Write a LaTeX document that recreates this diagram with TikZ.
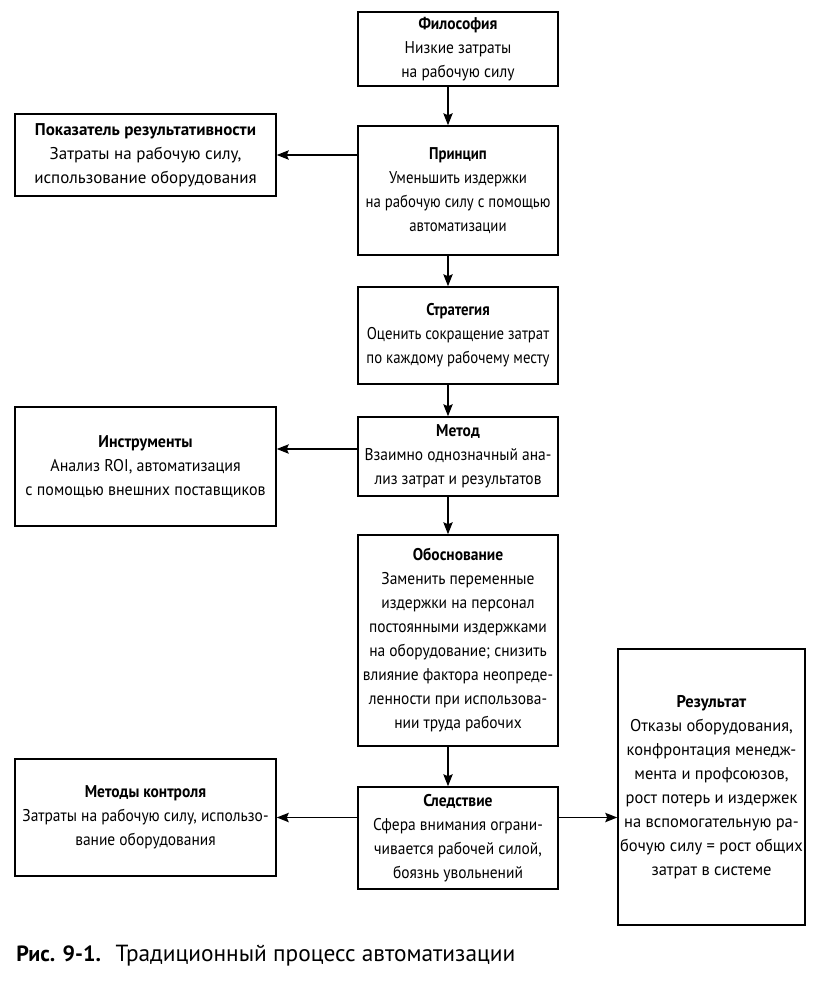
\documentclass[tikz,border=0pt]{standalone}
\usepackage{fontspec}
\setmainfont{PT Sans}
\newfontfamily\fS{PT Sans}[FakeStretch=0.87]
\newfontfamily\fM{PT Sans}[FakeStretch=0.91]
\newfontfamily\fN{PT Sans}[FakeStretch=0.94]
\newfontfamily\fW{PT Sans}[FakeStretch=0.97]
\usetikzlibrary{arrows.meta,calc}
\begin{document}
\begin{tikzpicture}[x=0.75pt,y=-0.75pt,
  box/.style={draw,line width=1.1pt,align=center,inner sep=0pt},
  tS/.style={font=\fS\fontsize{12.75}{18}\selectfont},
  tM/.style={font=\fM\fontsize{12.75}{18}\selectfont},
  tN/.style={font=\fN\fontsize{12.75}{18}\selectfont},
  tW/.style={font=\fW\fontsize{12.75}{18}\selectfont},
  tR/.style={font=\fontsize{12.75}{18}\selectfont},
  arr/.style={line width=1.1pt,-{Stealth[length=9pt,width=7pt,inset=1.5pt]}}]
\useasboundingbox (0,0) rectangle (816,992);
% central column
\node[box,tM,minimum width=150pt,minimum height=55.5pt] (phil) at (458,49)
  {\textbf{Философия}\\Низкие затраты\\на рабочую силу};
\node[box,tS,minimum width=150pt,minimum height=96.75pt] (princ) at (458,190.5)
  {\textbf{Принцип}\\Уменьшить издержки\\на рабочую силу с помощью\\автоматизации};
\node[box,tS,minimum width=150pt,minimum height=72.75pt] (strat) at (458,335.5)
  {\textbf{Стратегия}\\Оценить сокращение затрат\\по каждому рабочему месту};
\node[box,tM,minimum width=150pt,minimum height=59.25pt] (meth) at (458,456.5)
  {\textbf{Метод}\\Взаимно однозначный ана-\\лиз затрат и результатов};
\node[box,tM,minimum width=150pt,minimum height=158.25pt] (just) at (458,640.5)
  {\textbf{Обоснование}\\Заменить переменные\\издержки на персонал\\постоянными издержками\\на оборудование; снизить\\влияние фактора неопреде-\\ленности при использова-\\нии труда рабочих};
\node[box,tM,minimum width=150pt,minimum height=76.5pt] (cons) at (458,838)
  {\textbf{Следствие}\\Сфера внимания ограни-\\чивается рабочей силой,\\боязнь увольнений};
% left column
\node[box,tR,minimum width=195.75pt,minimum height=61.5pt] (kpi) at (145.5,155)
  {\textbf{Показатель результативности}\\Затраты на рабочую силу,\\использование оборудования};
\node[box,tN,minimum width=195.75pt,minimum height=89.25pt] (tools) at (145.5,466.5)
  {\textbf{Инструменты}\\Анализ ROI, автоматизация\\с помощью внешних поставщиков};
\node[box,tM,minimum width=195.75pt,minimum height=87.75pt] (ctrl) at (145.5,817.5)
  {\textbf{Методы контроля}\\Затраты на рабочую силу, использо-\\вание оборудования};
% right
\node[box,tW,minimum width=140.25pt,minimum height=207pt] (res) at (711.5,787)
  {\textbf{Результат}\\Отказы оборудования,\\конфронтация менедж-\\мента и профсоюзов,\\рост потерь и издержек\\на вспомогательную ра-\\бочую силу = рост общих\\затрат в системе};
% connectors
\coordinate (v) at (448,0);
\coordinate (h2) at (0,449);
\draw[arr] (phil.south -| v) -- (princ.north -| v);
\draw[arr] (princ.south -| v) -- (strat.north -| v);
\draw[arr] (strat.south -| v) -- (meth.north -| v);
\draw[arr] (meth.south -| v) -- (just.north -| v);
\draw[arr] (just.south -| v) -- (cons.north -| v);
\draw[arr] (princ.west |- kpi) -- (kpi.east);
\draw[arr] (meth.west |- h2) -- (tools.east |- h2);
\draw[arr] (cons.west |- ctrl) -- (ctrl.east);
\draw[arr] (cons.east |- ctrl) -- (res.west |- ctrl);
% caption
\node[anchor=base west,inner sep=0pt] (cap) at (16,961)
  {\fontsize{16.5}{20}\selectfont\textbf{Рис. 9-1.}\hspace{11pt}\fontsize{17.5}{20}\selectfont Традиционный процесс автоматизации};
\end{tikzpicture}
\end{document}
